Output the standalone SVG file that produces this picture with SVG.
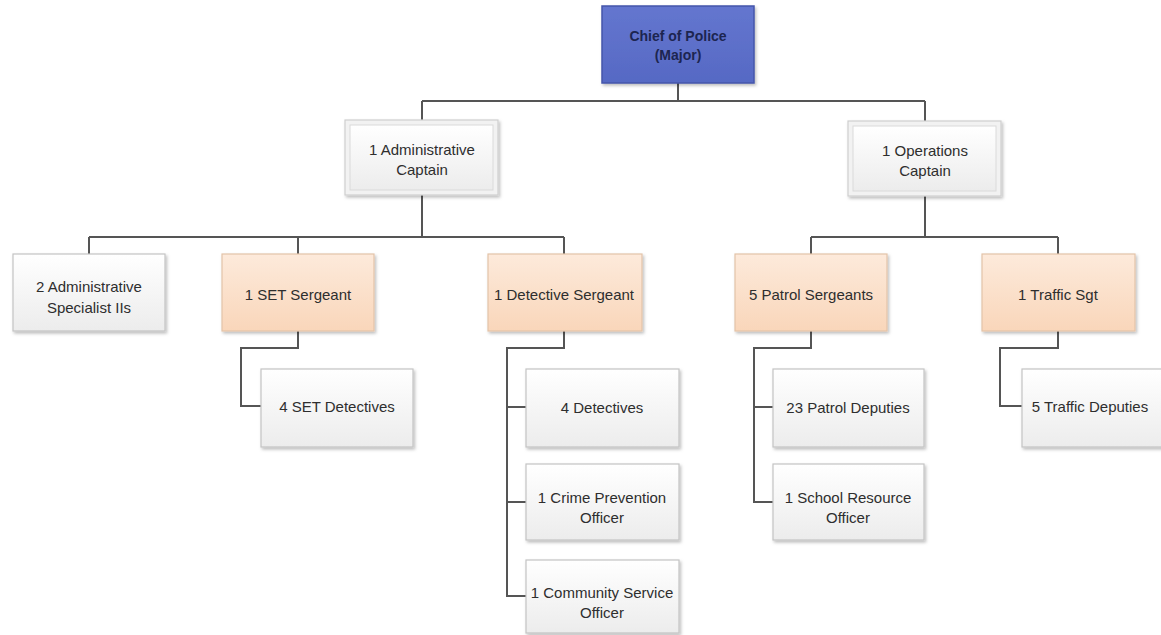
<svg xmlns="http://www.w3.org/2000/svg" width="1161" height="635" viewBox="0 0 1161 635">
<defs>
<linearGradient id="gw" x1="0" y1="0" x2="0" y2="1"><stop offset="0" stop-color="#ffffff"/><stop offset="1" stop-color="#ececec"/></linearGradient>
<linearGradient id="go" x1="0" y1="0" x2="0" y2="1"><stop offset="0" stop-color="#fdeadb"/><stop offset="1" stop-color="#f9d6ba"/></linearGradient>
<linearGradient id="gb" x1="0" y1="0" x2="0" y2="1"><stop offset="0" stop-color="#6476cf"/><stop offset="1" stop-color="#5669c4"/></linearGradient>
<filter id="sh" x="-10%" y="-10%" width="125%" height="130%"><feDropShadow dx="1.5" dy="2" stdDeviation="1.5" flood-color="#000" flood-opacity="0.25"/></filter>
</defs>
<style>
.w{fill:url(#gw);stroke:#c4c4c4;stroke-width:1.2;filter:url(#sh)}
.o{fill:url(#go);stroke:#e3c3a8;stroke-width:1.2;filter:url(#sh)}
.cap{fill:#f2f2f2;stroke:#cfcfcf;stroke-width:1.2;filter:url(#sh)}
.capi{fill:url(#gw);stroke:#dadada;stroke-width:1}
.b{fill:url(#gb);stroke:#4456aa;stroke-width:1.5;filter:url(#sh)}
text{font-family:"Liberation Sans",Arial,sans-serif;font-size:15px;fill:#2e2e2e;text-anchor:middle}
.tb{font-weight:bold;fill:#1c2550;font-size:14px}
.c{fill:none;stroke:#555;stroke-width:2}
</style>
<g id="connectors">
<path class="c" d="M678 83V101M422 101H925M422 101V120M925 101V121"/>
<path class="c" d="M422 195V237M89 237H564M89 237V254M298 237V254M564 237V254"/>
<path class="c" d="M925 195V237M811 237H1058M811 237V254M1058 237V254"/>
<path class="c" d="M298 331V348H241V406H261"/>
<path class="c" d="M564 331V348H507V596H526M507 407H526M507 502H526"/>
<path class="c" d="M811 331V348H754V502H773M754 407H773"/>
<path class="c" d="M1058 331V348H1000V406H1022"/>
</g>
<g id="chief"><rect class="b" x="602" y="6" width="152" height="77"/><text class="tb" x="678" y="41">Chief of Police</text><text class="tb" x="678" y="60">(Major)</text></g>
<g id="admin-captain"><rect class="cap" x="345" y="120" width="153" height="75"/><rect class="capi" x="350" y="125" width="143" height="65"/><text x="422" y="155">1 Administrative</text><text x="422" y="175">Captain</text></g>
<g id="ops-captain"><rect class="cap" x="848" y="121" width="153" height="75"/><rect class="capi" x="853" y="126" width="143" height="65"/><text x="925" y="156">1 Operations</text><text x="925" y="176">Captain</text></g>
<g id="admin-specialists"><rect class="w" x="13" y="254" width="152" height="77"/><text x="89" y="292">2 Administrative</text><text x="89" y="313">Specialist IIs</text></g>
<g id="set-sergeant"><rect class="o" x="222" y="254" width="152" height="77"/><text x="298" y="300">1 SET Sergeant</text></g>
<g id="detective-sergeant"><rect class="o" x="488" y="254" width="154" height="77"/><text x="564" y="300">1 Detective Sergeant</text></g>
<g id="patrol-sergeants"><rect class="o" x="735" y="254" width="152" height="77"/><text x="811" y="300">5 Patrol Sergeants</text></g>
<g id="traffic-sgt"><rect class="o" x="982" y="254" width="153" height="77"/><text x="1058" y="300">1 Traffic Sgt</text></g>
<g id="set-detectives"><rect class="w" x="261" y="369" width="152" height="78"/><text x="337" y="412">4 SET Detectives</text></g>
<g id="detectives"><rect class="w" x="526" y="369" width="153" height="78"/><text x="602" y="413">4 Detectives</text></g>
<g id="crime-prevention"><rect class="w" x="526" y="464" width="153" height="76"/><text x="602" y="503">1 Crime Prevention</text><text x="602" y="523">Officer</text></g>
<g id="community-service"><rect class="w" x="526" y="560" width="153" height="73"/><text x="602" y="598">1 Community Service</text><text x="602" y="618">Officer</text></g>
<g id="patrol-deputies"><rect class="w" x="773" y="369" width="151" height="78"/><text x="848" y="413">23 Patrol Deputies</text></g>
<g id="school-resource"><rect class="w" x="773" y="464" width="151" height="76"/><text x="848" y="503">1 School Resource</text><text x="848" y="523">Officer</text></g>
<g id="traffic-deputies"><rect class="w" x="1022" y="369" width="152" height="78"/><text x="1090" y="412">5 Traffic Deputies</text></g>
</svg>
